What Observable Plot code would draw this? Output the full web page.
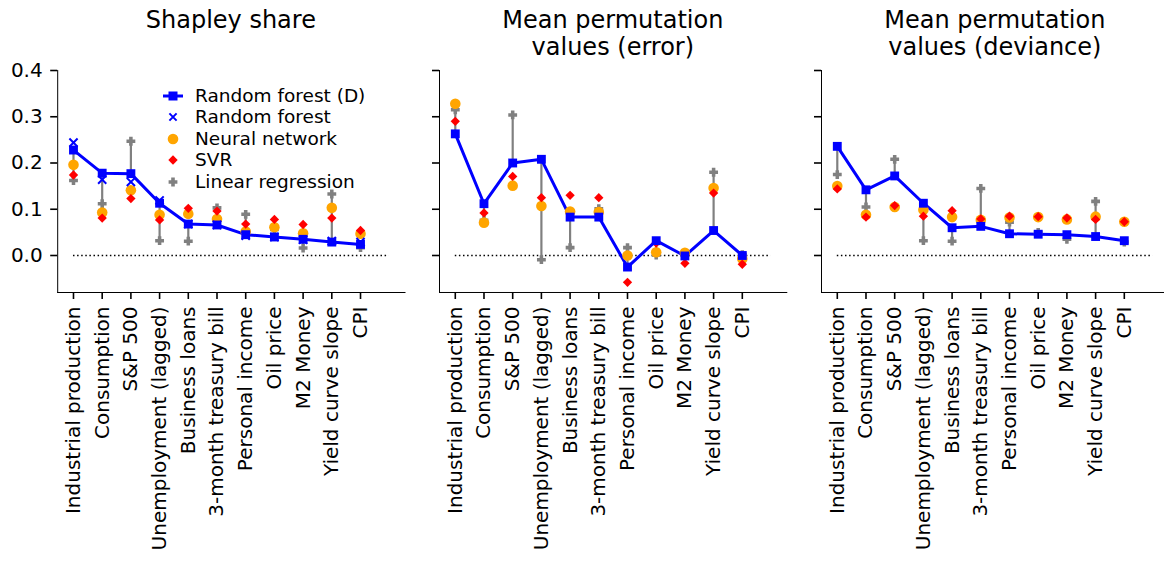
<!DOCTYPE html>
<html>
<head>
<meta charset="utf-8">
<script src="https://cdn.jsdelivr.net/npm/d3@7"></script>
<script src="https://cdn.jsdelivr.net/npm/@observablehq/plot@0.6"></script>
<style>
  html, body { margin: 0; padding: 0; background: #fff; overflow: hidden; }
  #root { position: relative; width: 1164px; height: 561px; overflow: hidden; font-family: "DejaVu Sans", sans-serif; color: #000; }
  .title { position: absolute; width: 360px; text-align: center; font-size: 24px; line-height: 27px; white-space: pre; }
  .panel { position: absolute; top: 60px; }
  .panel svg { max-width: none !important; display: block; }
  .panel svg [aria-label*="axis"] line, .panel svg [aria-label*="axis"] path { stroke-width: 1.6px; }
  .leg { position: absolute; font-size: 18.5px; line-height: 20px; white-space: nowrap; }
  .leg svg { position: absolute; left: 0; top: 0; overflow: visible; }
  .leg span { position: absolute; left: 32px; top: 0; }
</style>
</head>
<body>
<div id="root"></div>
<script>
// ---- data ----
const categories = ["Industrial production", "Consumption", "S&P 500", "Unemployment (lagged)", "Business loans",
  "3-month treasury bill", "Personal income", "Oil price", "M2 Money", "Yield curve slope", "CPI"];
const titles = ["Shapley share", "Mean permutation\nvalues (error)", "Mean permutation\nvalues (deviance)"];
const seriesNames = ["Random forest (D)", "Random forest", "Neural network", "SVR", "Linear regression"];
const yTicks = [0.0, 0.1, 0.2, 0.3, 0.4];

// Panel 1: Shapley share
const shapRFD = [0.228, 0.178, 0.177, 0.113, 0.068, 0.066, 0.045, 0.040, 0.035, 0.029, 0.024];
const shapRF  = [0.244, 0.164, 0.159, 0.119, 0.068, 0.066, 0.043, 0.040, 0.034, 0.031, 0.029];
const shapNN  = [0.196, 0.093, 0.141, 0.088, 0.090, 0.079, 0.052, 0.061, 0.048, 0.103, 0.047];
const shapSVR = [0.174, 0.081, 0.123, 0.077, 0.102, 0.096, 0.068, 0.078, 0.067, 0.081, 0.054];
const shapLR  = [0.162, 0.112, 0.247, 0.032, 0.031, 0.103, 0.089, 0.056, 0.016, 0.133, 0.017];

// Panel 2: mean permutation values (error)
const errRFD = [0.263, 0.112, 0.200, 0.208, 0.083, 0.083, -0.025, 0.032, -0.001, 0.054, 0.000];
const errNN  = [0.328, 0.071, 0.151, 0.107, 0.095, 0.094, 0.000, 0.007, 0.006, 0.146, -0.007];
const errSVR = [0.290, 0.092, 0.171, 0.125, 0.130, 0.125, -0.058, 0.027, -0.017, 0.135, -0.019];
const errLR  = [0.315, 0.076, 0.304, -0.009, 0.017, 0.101, 0.017, 0.001, 0.001, 0.180, 0.002];

// Panel 3: mean permutation values (deviance)
const devRFD = [0.236, 0.142, 0.172, 0.113, 0.060, 0.063, 0.047, 0.046, 0.045, 0.041, 0.032];
const devNN  = [0.150, 0.088, 0.105, 0.099, 0.083, 0.077, 0.082, 0.083, 0.078, 0.084, 0.073];
const devSVR = [0.144, 0.083, 0.108, 0.085, 0.097, 0.079, 0.085, 0.084, 0.081, 0.078, 0.073];
const devLR  = [0.175, 0.105, 0.208, 0.032, 0.031, 0.145, 0.072, 0.050, 0.035, 0.117, 0.029];

// ---- styling ----
const colors = {rfd: "#0000ff", rf: "#0000ff", nn: "#ffa500", svr: "#ff0000", lr: "#808080"};
const root = document.getElementById("root");

// thick filled plus (like matplotlib's "P" marker)
const thickPlus = {
  draw(context, size) {
    const a = Math.sqrt(size) * 0.58, t = a * 0.4;
    context.moveTo(-t, -a); context.lineTo(t, -a); context.lineTo(t, -t); context.lineTo(a, -t);
    context.lineTo(a, t); context.lineTo(t, t); context.lineTo(t, a); context.lineTo(-t, a);
    context.lineTo(-t, t); context.lineTo(-a, t); context.lineTo(-a, -t); context.lineTo(-t, -t);
    context.closePath();
  }
};

const panels = [
  {rfd: shapRFD, rf: shapRF, nn: shapNN, svr: shapSVR, lr: shapLR},
  {rfd: errRFD, nn: errNN, svr: errSVR, lr: errLR},
  {rfd: devRFD, nn: devNN, svr: devSVR, lr: devLR}
];

const plotLefts = [57.2, 439.2, 821.2];
const plotW = 347.3;
const n = categories.length;

panels.forEach((p, k) => {
  const rows = categories.map((c, i) => ({
    i, rfd: p.rfd[i], rf: p.rf ? p.rf[i] : null, nn: p.nn[i], svr: p.svr[i], lr: p.lr[i]
  }));
  const ml = k === 0 ? 57.2 : 20;
  const W = ml + plotW + 10;
  const chart = Plot.plot({
    width: W,
    height: 501,
    marginLeft: ml,
    marginRight: 10,
    marginTop: 10,
    marginBottom: 269,
    style: {fontSize: "20px", fontFamily: "DejaVu Sans", background: "transparent", overflow: "visible", color: "#000", maxWidth: "none"},
    x: {
      type: "linear",
      domain: [-0.05 * n, n + 0.05 * n],
      ticks: d3.range(n),
      tickFormat: i => categories[i],
      tickRotate: -90,
      tickSize: 7,
      tickPadding: 7,
      line: true,
      label: null
    },
    y: {
      domain: [-0.08, 0.4],
      ticks: yTicks,
      tickFormat: k === 0 ? d3.format(".1f") : () => "",
      tickSize: 7,
      tickPadding: 8,
      line: true,
      label: null
    },
    marks: [
      Plot.ruleY([0], {x1: 0, x2: n, stroke: "#000", strokeWidth: 1.5, strokeDasharray: "1.5,2.6"}),
      Plot.ruleX(rows, {x: "i", y1: "rfd", y2: "lr", stroke: colors.lr, strokeWidth: 2.2}),
      Plot.line(rows, {x: "i", y: "rfd", stroke: colors.rfd, strokeWidth: 3}),
      Plot.dot(rows, {x: "i", y: "lr", symbol: thickPlus, r: 4.3, fill: colors.lr, stroke: "none"}),
      Plot.dot(rows, {x: "i", y: "nn", symbol: "circle", r: 5.3, fill: colors.nn, stroke: "none"}),
      Plot.dot(rows, {x: "i", y: "svr", symbol: "diamond2", r: 4.2, fill: colors.svr, stroke: "none"}),
      Plot.dot(rows, {x: "i", y: "rfd", symbol: "square", r: 5, fill: colors.rfd, stroke: "none"}),
      p.rf ? Plot.dot(rows, {x: "i", y: "rf", symbol: "times", r: 3.8, stroke: colors.rf, strokeWidth: 2}) : null
    ]
  });
  const wrap = document.createElement("div");
  wrap.className = "panel";
  wrap.style.left = (plotLefts[k] - ml) + "px";
  wrap.style.width = W + "px";
  wrap.appendChild(chart);
  root.appendChild(wrap);

  const t = document.createElement("div");
  t.className = "title";
  t.textContent = titles[k];
  t.style.left = (plotLefts[k] + plotW / 2 - 180) + "px";
  t.style.top = "7px";
  root.appendChild(t);
});

// ---- legend (inside first panel, upper right) ----
const legendSymbols = [
  `<line x1="-10" x2="10" y1="0" y2="0" stroke="${colors.rfd}" stroke-width="3"/><rect x="-4.5" y="-4.5" width="9" height="9" fill="${colors.rfd}"/>`,
  `<path d="M-3.6,-3.6L3.6,3.6M-3.6,3.6L3.6,-3.6" stroke="${colors.rf}" stroke-width="2" fill="none"/>`,
  `<circle r="5.3" fill="${colors.nn}"/>`,
  `<path d="M0,-4.7L4.7,0L0,4.7L-4.7,0Z" fill="${colors.svr}"/>`,
  `<path d="M-1.8,-4.4H1.8V-1.8H4.4V1.8H1.8V4.4H-1.8V1.8H-4.4V-1.8H-1.8Z" fill="${colors.lr}"/>`
];
const legendRowY = [95.5, 117.1, 138.7, 160.3, 181.9];
seriesNames.forEach((name, j) => {
  const row = document.createElement("div");
  row.className = "leg";
  row.style.left = "163px";
  row.style.top = (legendRowY[j] - 10) + "px";
  row.innerHTML = `<svg width="20" height="20"><g transform="translate(10,10)">${legendSymbols[j]}</g></svg><span>${name}</span>`;
  root.appendChild(row);
});
</script>
</body>
</html>
